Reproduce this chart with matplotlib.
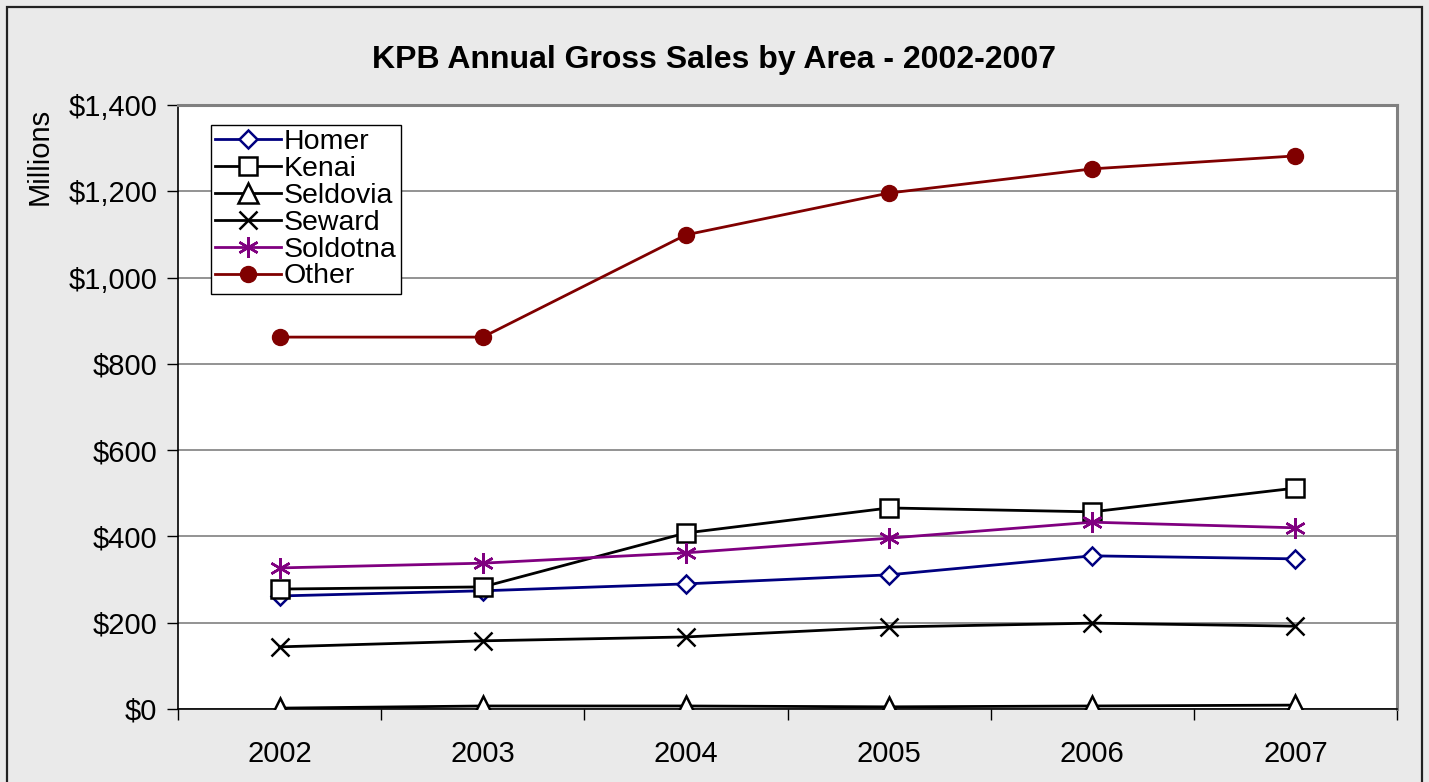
import matplotlib
matplotlib.use("Agg")
import matplotlib.pyplot as plt
from matplotlib.patches import Rectangle
from matplotlib.ticker import FuncFormatter, FixedLocator

plt.rcParams['font.family'] = ['Liberation Sans', 'DejaVu Sans']

years = ["2002", "2003", "2004", "2005", "2006", "2007"]
homer = [262, 274, 290, 311, 355, 348]
kenai = [278, 283, 408, 466, 457, 512]
seldovia = [2, 7, 7, 5, 7, 9]
seward = [144, 158, 167, 190, 199, 192]
soldotna = [327, 338, 362, 396, 433, 420]
other = [862, 862, 1099, 1196, 1252, 1282]

fig = plt.figure(figsize=(14.29, 7.82), dpi=100)
fig.patch.set_facecolor('#eaeaea')
# outer frame
fig.patches.append(Rectangle((7/1429, -0.05), (1422-7)/1429, 1.05 - 7/782,
                             transform=fig.transFigure, fill=False,
                             edgecolor='#222222', linewidth=1.6))

ax = fig.add_axes([178/1429, 1-709/782, (1397-178)/1429, (709-105)/782])
ax.set_facecolor('white')
x = list(range(len(years)))

lw = 2.0
ax.plot(x, homer, color='#000080', lw=lw, marker='D', ms=9, mfc='white',
        mec='#000080', mew=1.8, label='Homer', zorder=3)
ax.plot(x, kenai, color='black', lw=lw, marker='s', ms=12.5, mfc='white',
        mec='black', mew=1.8, label='Kenai', zorder=3)
ax.plot(x, seldovia, color='black', lw=lw, marker='^', ms=14, mfc='white',
        mec='black', mew=1.8, label='Seldovia', zorder=3)
ax.plot(x, seward, color='black', lw=lw, marker='x', ms=13, mec='black',
        mew=1.8, label='Seward', zorder=3)
ax.plot(x, soldotna, color='#800080', lw=lw, marker=(6, 2, 0), ms=15,
        mec='#800080', mew=1.8, label='Soldotna', zorder=3)
ax.plot(x, other, color='#800000', lw=lw, marker='o', ms=11.5, mfc='#800000',
        mec='#800000', label='Other', zorder=3)

ax.set_xlim(-0.5, len(years) - 0.5)
ax.set_ylim(0, 1400)
ax.set_yticks(range(0, 1401, 200))
ax.yaxis.set_major_formatter(FuncFormatter(lambda v, p: f"${int(v):,}"))
ax.grid(axis='y', color='#808080', lw=1.2)
ax.set_axisbelow(True)

ax.xaxis.set_major_locator(FixedLocator([i - 0.5 for i in range(len(years) + 1)]))
ax.xaxis.set_major_formatter(FuncFormatter(lambda v, p: ""))
ax.set_xticks(x, minor=True)
ax.set_xticklabels(years, minor=True)
ax.tick_params(axis='x', which='minor', length=0, labelsize=21, pad=22)
ax.tick_params(axis='x', which='major', length=8, width=1, direction='out')
ax.tick_params(axis='y', length=8, width=1, direction='out', labelsize=21, pad=7)

for s in ['top', 'right']:
    ax.spines[s].set_color('#808080')
    ax.spines[s].set_linewidth(2.2)
for s in ['left', 'bottom']:
    ax.spines[s].set_color('black')
    ax.spines[s].set_linewidth(1.2)

ax.set_ylabel('Millions', fontsize=21)
ax.yaxis.set_label_coords(-0.102, 0.915, transform=ax.transAxes)

fig.text(0.5 * (372 + 1057) / 1429, 1 - 60/782, 'KPB Annual Gross Sales by Area - 2002-2007',
         ha='center', va='center', fontsize=23, fontweight='bold')

leg = ax.legend(loc='upper left', bbox_to_anchor=(0.027, 0.967), fontsize=20.5,
                frameon=True, fancybox=False, edgecolor='black', framealpha=1,
                borderpad=0.15, labelspacing=0.03, handlelength=2.3,
                handletextpad=0.1, borderaxespad=0)
leg.get_frame().set_linewidth(1.0)

fig.savefig('out.png', dpi=100, facecolor=fig.get_facecolor())
